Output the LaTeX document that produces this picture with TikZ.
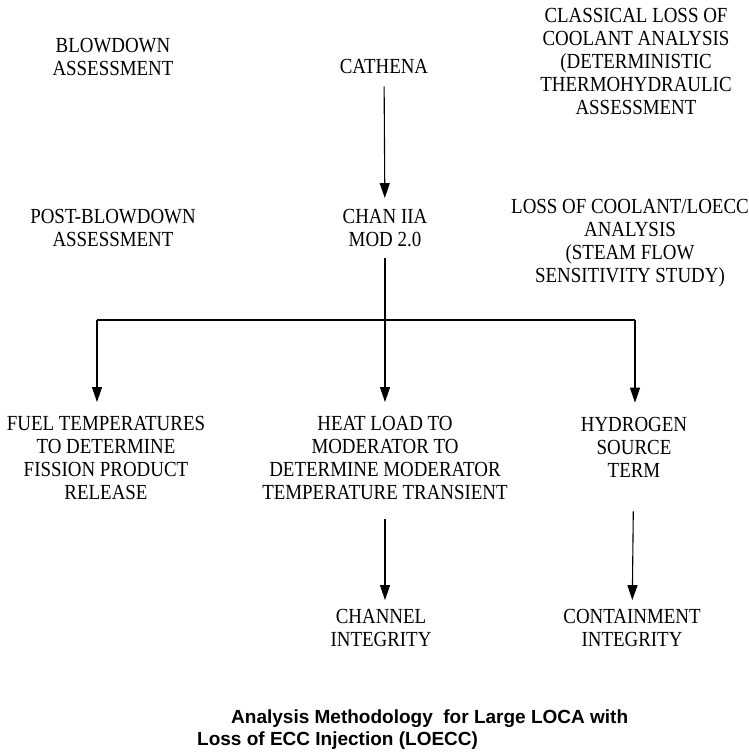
\documentclass[tikz,border=0pt]{standalone}
\usepackage{fontspec}
\setmainfont[FakeStretch=0.88]{Liberation Serif}
\newfontfamily\capfont{Liberation Sans}
\usetikzlibrary{arrows.meta,positioning}

\begin{document}
\begin{tikzpicture}[x=1pt, y=-1pt,
  every node/.style={font=\fontsize{21.5}{23}\selectfont, align=center, inner sep=0pt},
  flow/.style={-{Triangle[width=10pt,length=15pt]}, line width=1.1pt}]
\useasboundingbox (0,0) rectangle (749,755);
% top row: blowdown
\node (blow) at (113,57) {BLOWDOWN\\ASSESSMENT};
\node (cathena) at (384,66) {CATHENA};
\node (classic) at (636,61) {CLASSICAL LOSS OF\\COOLANT ANALYSIS\\(DETERMINISTIC\\THERMOHYDRAULIC\\ASSESSMENT};
% second row: post-blowdown
\node (post) at (113,228) {POST-BLOWDOWN\\ASSESSMENT};
\node (chan) at (385,228) {CHAN IIA\\MOD 2.0};
\node (loecc) at (630,243) {LOSS OF COOLANT/LOECC\\ANALYSIS\\(STEAM FLOW\\SENSITIVITY STUDY)};
% results
\node (fuel) at (106,458) {FUEL TEMPERATURES\\TO DETERMINE\\FISSION PRODUCT\\RELEASE};
\node (heat) at (385,458) {HEAT LOAD TO\\MODERATOR TO\\DETERMINE MODERATOR\\TEMPERATURE TRANSIENT};
\node (hydro) at (634,447) {HYDROGEN\\SOURCE\\TERM};
\node (channel) at (381,628) {CHANNEL\\INTEGRITY};
\node (contain) at (632,628) {CONTAINMENT\\INTEGRITY};
\node[anchor=west, font=\capfont\bfseries\fontsize{19}{22}\selectfont] (cap1) at (231,719) {Analysis Methodology~ for Large LOCA with};
\node[anchor=west, font=\capfont\bfseries\fontsize{19}{22}\selectfont] (cap2) at (197,741) {Loss of ECC Injection (LOECC)};

\coordinate (split) at (385,320);
\coordinate (bl) at (97,320);
\coordinate (br) at (635,320);

\draw[flow, shorten <=13pt, shorten >=11pt] (cathena) -- (chan);
\draw[line width=1.1pt, shorten <=11pt] (chan) -- (split);
\draw[line width=1.1pt] (bl) -- (br);
\draw[flow, shorten >=14pt] (bl) -- (bl |- fuel.north);
\draw[flow, shorten >=14pt] (split) -- (heat);
\draw[flow, shorten >=14pt] (br) -- (br |- hydro.north);
\draw[flow, shorten <=19pt, shorten >=9pt] (heat) -- (channel.north -| heat);
\draw[flow, shorten <=34pt, shorten >=9pt] (hydro) -- (contain);
\end{tikzpicture}
\end{document}
